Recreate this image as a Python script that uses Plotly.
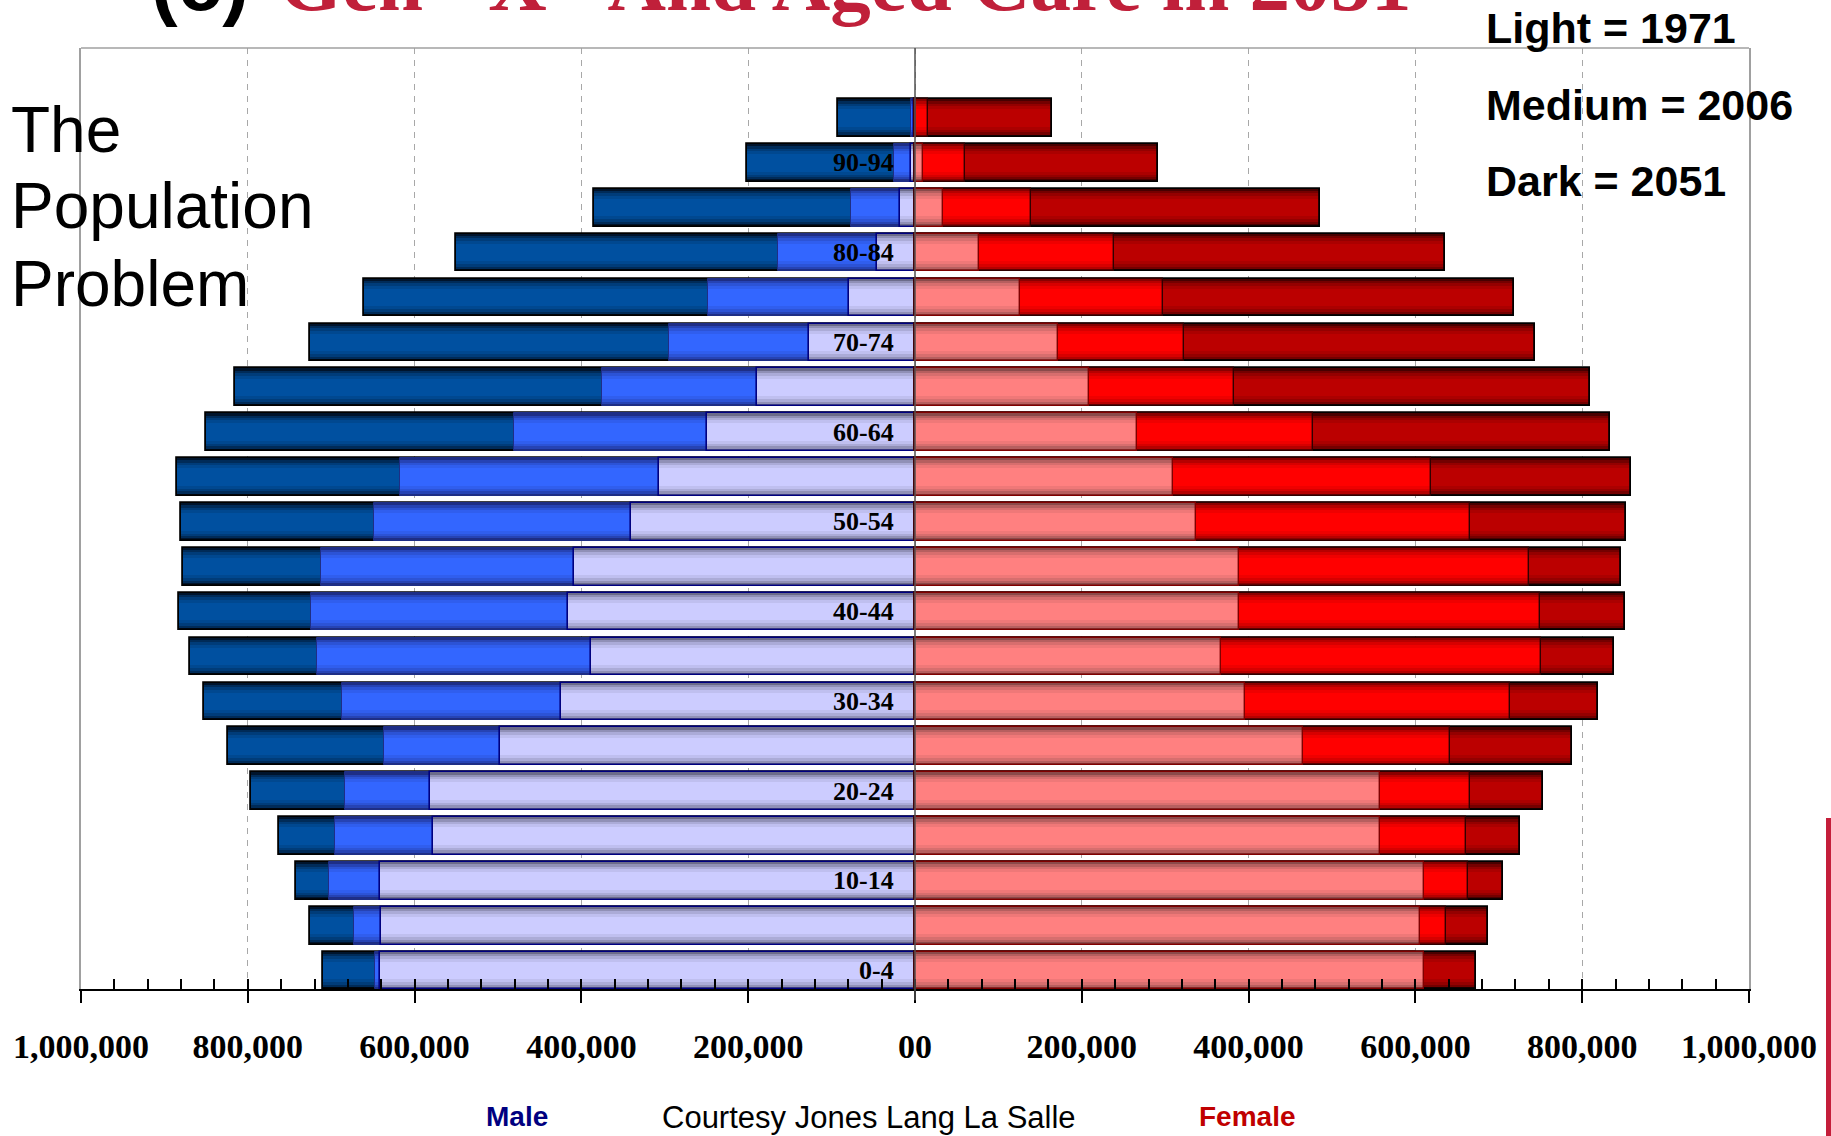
import plotly.graph_objects as go

# ---------------- data ----------------
age_groups = ["0-4", "5-9", "10-14", "15-19", "20-24", "25-29", "30-34", "35-39",
              "40-44", "45-49", "50-54", "55-59", "60-64", "65-69", "70-74", "75-79",
              "80-84", "85-89", "90-94", "95+"]
shown_labels = ["0-4", "10-14", "20-24", "30-34", "40-44", "50-54", "60-64",
                "70-74", "80-84", "90-94"]

male_1971 = [641000, 640000, 641000, 578000, 582000, 498000, 425000, 388000, 416000, 409000,
             340000, 307000, 249000, 190000, 127000, 79000, 45000, 18000, 5000, 1000]
male_2006 = [647000, 673000, 703000, 696000, 683000, 637000, 687000, 717000, 724000, 712000,
             649000, 617000, 481000, 375000, 295000, 248000, 164000, 77000, 25000, 5000]
male_2051 = [710000, 726000, 742000, 763000, 796000, 824000, 852000, 869000, 883000, 878000,
             880000, 885000, 850000, 815000, 726000, 661000, 550000, 385000, 201000, 92000]

female_1971 = [610000, 606000, 610000, 558000, 558000, 465000, 396000, 367000, 388000, 389000,
               337000, 309000, 266000, 209000, 171000, 126000, 77000, 33000, 9000, 1000]
female_2006 = [600000, 637000, 663000, 661000, 666000, 641000, 714000, 750000, 749000, 736000,
               666000, 619000, 477000, 382000, 322000, 297000, 239000, 139000, 60000, 16000]
female_2051 = [673000, 687000, 705000, 725000, 753000, 788000, 819000, 838000, 851000, 847000,
               852000, 859000, 833000, 809000, 743000, 718000, 635000, 486000, 291000, 164000]

tick_vals = [-1000000, -800000, -600000, -400000, -200000, 0,
             200000, 400000, 600000, 800000, 1000000]
tick_text = ["1,000,000", "800,000", "600,000", "400,000", "200,000", "00",
             "200,000", "400,000", "600,000", "800,000", "1,000,000"]

# ---------------- helpers ----------------
W, H = 1831, 1136
ML, MR, MT, MB = 81, 82, 48, 147
PW, PH = W - ML - MR, H - MT - MB


def PX(px):
    return (px - ML) / PW


def PY(py):
    return (MT + PH - py) / PH


def hex2rgb(h):
    h = h.lstrip("#")
    return tuple(int(h[i:i + 2], 16) for i in (0, 2, 4))


def mix(c1, c2, t):
    a, b = hex2rgb(c1), hex2rgb(c2)
    return "rgb(%d,%d,%d)" % tuple(round(a[i] + (b[i] - a[i]) * t) for i in range(3))


BAR_W = 0.84
bands = [(1.0, 0.0), (0.88, 0.38), (0.76, 0.66), (0.62, 0.86), (0.46, 1.0)]

y_pos = list(range(len(age_groups)))

fig = go.Figure()


def add_series(values, sign, edge, center, outline, owidth):
    xs = [sign * v for v in values]
    for frac, t in bands:
        fig.add_trace(go.Bar(x=xs, y=y_pos, orientation="h", width=BAR_W * frac,
                             marker=dict(color=mix(edge, center, t), line=dict(width=0)),
                             hoverinfo="skip"))
    fig.add_trace(go.Bar(x=xs, y=y_pos, orientation="h", width=BAR_W,
                         marker=dict(color="rgba(0,0,0,0)",
                                     line=dict(color=outline, width=owidth)),
                         hoverinfo="skip"))


# male (left)
add_series(male_2051, -1, "#00142C", "#0050A0", "#000000", 1.8)
add_series(male_2006, -1, "#1E2E86", "#3366FF", "#1E2E86", 1.0)
add_series(male_1971, -1, "#6C6C8A", "#CCCCFF", "#000080", 1.6)
# female (right)
add_series(female_2051, 1, "#480000", "#BB0000", "#000000", 1.8)
add_series(female_2006, 1, "#8A0000", "#FF0000", "#300000", 1.4)
add_series(female_1971, 1, "#8A4A4A", "#FF8080", "#800000", 1.4)

# carrier trace so the minor-tick axis (x2) is drawn
fig.add_trace(go.Scatter(x=[None], y=[None], xaxis="x2", yaxis="y", mode="markers",
                         hoverinfo="skip", showlegend=False))

# ---------------- layout ----------------
fig.update_layout(
    width=W, height=H,
    margin=dict(l=ML, r=MR, t=MT, b=MB, autoexpand=False),
    paper_bgcolor="white", plot_bgcolor="white",
    barmode="overlay", bargap=0, showlegend=False,
    xaxis=dict(range=[-1000000, 1000000], tickmode="array", tickvals=tick_vals,
               ticktext=tick_text, ticks="outside", ticklen=12, tickwidth=2,
               tickcolor="black", showline=True, linecolor="black", linewidth=2,
               showgrid=True, gridcolor="#A8A8A8", gridwidth=1.2, griddash="6px,6px",
               zeroline=False, automargin=False, ticklabelstandoff=14,
               tickfont=dict(family="Liberation Serif", size=34, color="black",
                             weight="bold")),
    xaxis2=dict(range=[-1000000, 1000000], overlaying="x", anchor="y", side="bottom",
                ticks="inside", ticklen=10, tickwidth=1.5, tickcolor="black",
                tickmode="linear", tick0=0, dtick=40000, showticklabels=False,
                showgrid=False, showline=False, zeroline=False, automargin=False),
    yaxis=dict(range=[-0.41, 20.56], showticklabels=False, ticks="", showgrid=False,
               zeroline=False, showline=True, linecolor="#A0A0A0", linewidth=1.5,
               mirror=True, automargin=False),
)

shapes = [
    dict(type="line", xref="paper", yref="paper", x0=0, x1=1, y0=1, y1=1,
         line=dict(color="#A0A0A0", width=1.5)),
    dict(type="line", xref="x", yref="paper", x0=0, x1=0, y0=-0.012, y1=1,
         line=dict(color="#505050", width=1.5), layer="above"),
    dict(type="rect", xref="paper", yref="paper", x0=PX(1826), x1=PX(1833),
         y0=PY(1140), y1=PY(818), fillcolor="#C41E3A", line=dict(width=0)),
]
fig.update_layout(shapes=shapes)

ann = []
# age labels inside bars
for lab in shown_labels:
    ann.append(dict(x=-23000, xref="x", y=age_groups.index(lab), yref="y", text=lab,
                    showarrow=False, xanchor="right", yanchor="middle",
                    font=dict(family="Liberation Serif", size=26, color="black",
                              weight="bold")))

sans = "Liberation Sans, Arial, sans-serif"
# left big text
for txt, yc in [("The", 129.5), ("Population", 205.8), ("Problem", 283.8)]:
    ann.append(dict(x=PX(9), y=PY(yc), xref="paper", yref="paper", text=txt,
                    showarrow=False, xanchor="left", yanchor="middle",
                    font=dict(family=sans, size=64, color="black")))
# right legend-like text
for txt, yc in [("Light = 1971", 28.0), ("Medium = 2006", 105.0), ("Dark = 2051", 181.5)]:
    ann.append(dict(x=PX(1484), y=PY(yc), xref="paper", yref="paper", text=txt,
                    showarrow=False, xanchor="left", yanchor="middle",
                    font=dict(family=sans, size=43, color="black", weight="bold")))
# title, cut off at the top edge as in the original slide
ann.append(dict(x=PX(149), y=PY(-17.7), xref="paper", yref="paper", text="(c)",
                showarrow=False, xanchor="left", yanchor="middle",
                font=dict(family=sans, size=80, color="black", weight="bold")))
ann.append(dict(x=PX(277), y=PY(-17.5), xref="paper", yref="paper",
                text='Gen "X" And Aged Care in 2051',
                showarrow=False, xanchor="left", yanchor="middle",
                font=dict(family="Liberation Serif", size=81, color="#C0203A",
                          weight="bold")))
# bottom texts
ann.append(dict(x=PX(517), y=PY(1116.5), xref="paper", yref="paper", text="Male",
                showarrow=False, xanchor="center", yanchor="middle",
                font=dict(family=sans, size=28, color="#000080", weight="bold")))
ann.append(dict(x=PX(869), y=PY(1117.5), xref="paper", yref="paper",
                text="Courtesy Jones Lang La Salle",
                showarrow=False, xanchor="center", yanchor="middle",
                font=dict(family=sans, size=31, color="black")))
ann.append(dict(x=PX(1247), y=PY(1116.5), xref="paper", yref="paper", text="Female",
                showarrow=False, xanchor="center", yanchor="middle",
                font=dict(family=sans, size=28, color="#C00000", weight="bold")))
fig.update_layout(annotations=ann)

fig.write_html("out.html")
